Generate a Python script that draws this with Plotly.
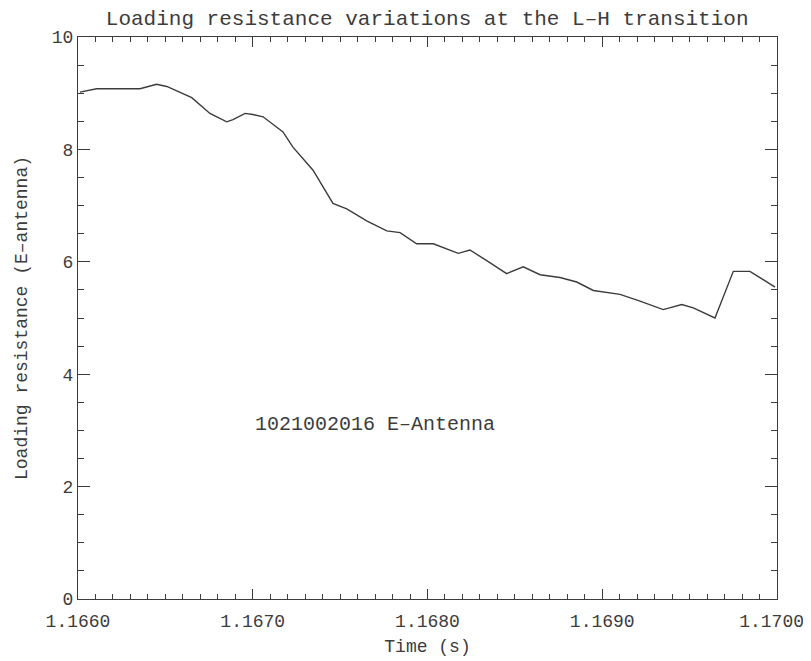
import plotly.graph_objects as go

time_s = [1.166011, 1.166107, 1.166355, 1.166450, 1.166508, 1.166584, 1.166651,
          1.166755, 1.166851, 1.166887, 1.166956, 1.167001, 1.167059, 1.167173,
          1.167230, 1.167345, 1.167459, 1.167538, 1.167652, 1.167767, 1.167843,
          1.167938, 1.168033, 1.168176, 1.168243, 1.168339, 1.168453, 1.168548,
          1.168644, 1.168758, 1.168854, 1.168949, 1.169102, 1.169216, 1.169349,
          1.169455, 1.169521, 1.169645, 1.169750, 1.169845, 1.169989]
resistance = [9.02, 9.08, 9.08, 9.16, 9.12, 9.02, 8.92,
              8.64, 8.49, 8.53, 8.64, 8.62, 8.58, 8.31,
              8.04, 7.63, 7.04, 6.94, 6.73, 6.55, 6.52,
              6.32, 6.32, 6.15, 6.21, 6.02, 5.79, 5.91,
              5.77, 5.72, 5.64, 5.49, 5.42, 5.30, 5.15,
              5.24, 5.18, 5.00, 5.83, 5.83, 5.55]

x_ticks = [1.1660, 1.1670, 1.1680, 1.1690, 1.1700]
x_tick_labels = ["1.1660", "1.1670", "1.1680", "1.1690", "1.1700\u00a0"]
y_ticks = [0, 2, 4, 6, 8, 10]
y_tick_labels = ["0", "2", "4", "6", "8", "10"]

title_text = "Loading resistance variations at the L\u2013H transition"
x_title = "Time (s)"
y_title = "Loading resistance (E\u2013antenna)"
note_text = "1021002016 E\u2013Antenna"
note_x, note_y = 1.16770, 3.1

ink = "#3c3c3c"
font_family = "Liberation Mono"

fig = go.Figure()
fig.add_trace(go.Scatter(x=time_s, y=resistance, mode="lines",
                         line=dict(color=ink, width=1.4), showlegend=False))

fig.add_annotation(x=note_x, y=note_y, text=note_text, showarrow=False,
                   font=dict(family=font_family, size=20, color=ink))

axis_common = dict(showgrid=False, zeroline=False, showline=True, linecolor=ink,
                   linewidth=1.3, ticks="inside", mirror="allticks",
                   tickcolor=ink, tickwidth=1.2, automargin=False,
                   ticklabeloverflow="allow",
                   tickfont=dict(family=font_family, size=18, color=ink))

fig.update_xaxes(range=[1.1660, 1.1700], tickvals=x_ticks, ticktext=x_tick_labels,
                 ticklen=10, ticklabelstandoff=5,
                 minor=dict(ticks="inside", dtick=0.0001, ticklen=5, tickcolor=ink,
                            tickwidth=1.2, showgrid=False),
                 title=dict(text=x_title, font=dict(family=font_family, size=18, color=ink),
                            standoff=8),
                 **axis_common)
fig.update_yaxes(range=[0, 10], tickvals=y_ticks, ticktext=y_tick_labels,
                 ticklen=12, ticklabelstandoff=0,
                 minor=dict(ticks="inside", dtick=0.5, ticklen=6, tickcolor=ink,
                            tickwidth=1.2, showgrid=False),
                 title=dict(text=y_title, font=dict(family=font_family, size=18, color=ink),
                            standoff=19),
                 **axis_common)

fig.update_layout(
    width=803, height=653,
    margin=dict(l=70, r=34, t=29, b=62),
    paper_bgcolor="white", plot_bgcolor="white",
    title=dict(text=title_text, x=0.522, xanchor="center", y=0.985, yanchor="middle",
               font=dict(family=font_family, size=21, color=ink)),
)

fig.write_html("out.html")
